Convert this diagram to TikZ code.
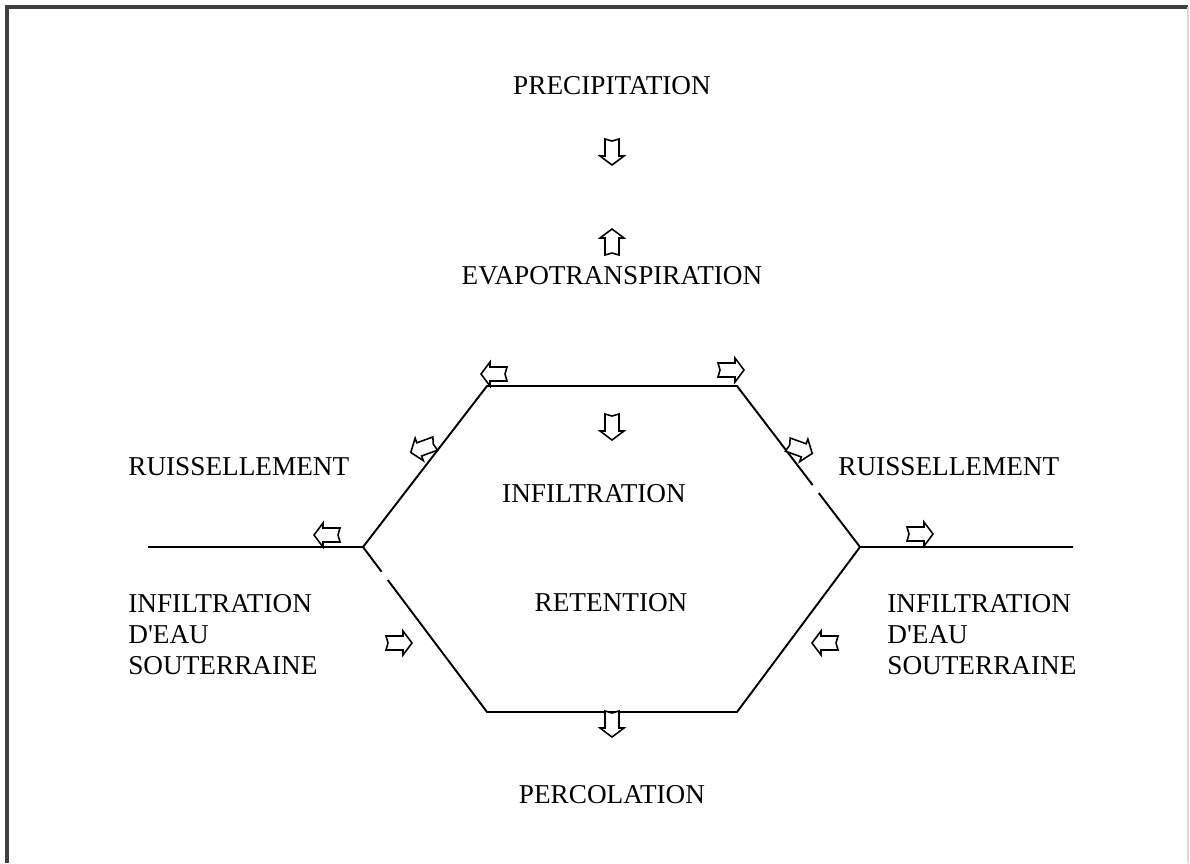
\documentclass[tikz,border=0pt]{standalone}
\usepackage{fontspec}
\setmainfont{Liberation Serif}
\usetikzlibrary{calc}

\tikzset{
	flow/.style={line width=1.1pt},
	blockarrow/.pic={
		\draw [line width=0.9pt, fill=white, line join=miter] (-13,-7) -- (4,-7) -- (4,-12) -- (13,0) -- (4,12) -- (4,7) -- (-13,7) -- (-11,0) -- cycle;
	}
}

\begin{document}
\begin{tikzpicture}[x=0.02cm,y=-0.02cm]
	\tikzstyle{every node}=[font=\fontsize{15.5}{17.6}\selectfont, inner sep=0pt]
	\useasboundingbox (0,0) rectangle (1190,863);
	
	% cadre
	\draw [line width=2.2pt, black!75] (7,863) -- (7,7) -- (1188,7);
	\draw [line width=0.6pt, black!15] (1188,7) -- (1188,863);
	
	% hexagone
	\coordinate (lout) at (148,547);
	\coordinate (l) at (363,547);
	\coordinate (tl) at (487,386);
	\coordinate (tr) at (737,386);
	\coordinate (r) at (860,547);
	\coordinate (rout) at (1073,547);
	\coordinate (br) at (737,712);
	\coordinate (bl) at (487,712);
	
	\draw [flow] (lout) -- (l) -- (tl) -- (tr) -- ($(tr)!0.615!(r)$);
	\draw [flow] ($(tr)!0.665!(r)$) -- (r) -- (rout);
	\draw [flow] (r) -- (br) -- (bl) -- ($(l)!0.2!(bl)$);
	\draw [flow] (l) -- ($(l)!0.15!(bl)$);
	
	% fleches
	\path (612,152) pic [rotate=270] {blockarrow};
	\path (612,242) pic [rotate=90] {blockarrow};
	\path (494,374) pic [rotate=180] {blockarrow};
	\path (731,370) pic {blockarrow};
	\path (612,427) pic [rotate=270] {blockarrow};
	\path (423,448) pic [rotate=200] {blockarrow};
	\path (327,535) pic [rotate=180] {blockarrow};
	\path (800,449) pic [rotate=340] {blockarrow};
	\path (920,534) pic {blockarrow};
	\path (399,643) pic {blockarrow};
	\path (825,643) pic [rotate=180] {blockarrow};
	\path (612,724) pic [rotate=270] {blockarrow};
	
	% textes
	\node (prec) at (612,86) {PRECIPITATION};
	\node (evap) at (612,276) {EVAPOTRANSPIRATION};
	\node [anchor=west] (ruisL) at (128,467) {RUISSELLEMENT};
	\node [anchor=west] (ruisR) at (838,467) {RUISSELLEMENT};
	\node (infil) at (594,494) {INFILTRATION};
	\node (ret) at (611,603) {RETENTION};
	\node [anchor=north west, align=left] (eauL) at (128,594) {INFILTRATION\\D\textquotesingle EAU\\SOUTERRAINE};
	\node [anchor=north west, align=left] (eauR) at (887,594) {INFILTRATION\\D\textquotesingle EAU\\SOUTERRAINE};
	\node (perc) at (612,795) {PERCOLATION};
	
\end{tikzpicture}
\end{document}
